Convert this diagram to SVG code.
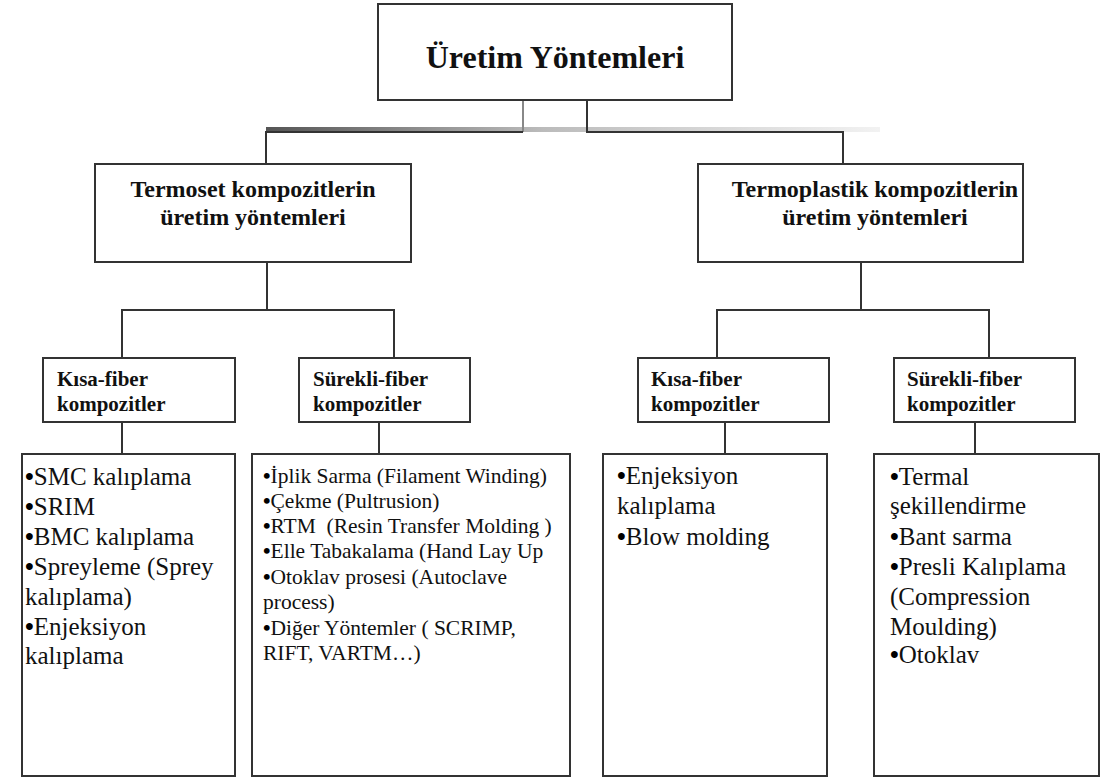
<svg xmlns="http://www.w3.org/2000/svg" width="1101" height="777" viewBox="0 0 1101 777">
<style>
.box{fill:#fff;stroke:#333;stroke-width:2}
.ln{fill:none;stroke:#333;stroke-width:2}
text{font-family:'Liberation Serif','DejaVu Serif','Times New Roman',serif;fill:#111}
.b{font-weight:bold}
.h1{font-size:32px}
.h2{font-size:24px}
.h3{font-size:21px}
.l{font-size:25px}
.s{font-size:21.5px}
.d{font-weight:bold;fill:#000}
</style>
<defs>
<linearGradient id="bar" x1="0" y1="0" x2="1" y2="0">
<stop offset="0" stop-color="#555"/>
<stop offset="0.45" stop-color="#bbb"/>
<stop offset="1" stop-color="#f2f2f2"/>
</linearGradient>
</defs>
<rect width="1101" height="777" fill="#fff"/>
<g id="connectors">
<rect x="266" y="127" width="614" height="5" fill="url(#bar)"/>
<line x1="523" y1="100" x2="523" y2="132" stroke="#888" stroke-width="2"/>
<polyline class="ln" points="523,132 266,132 266,164"/>
<polyline class="ln" points="587,100 587,132 843,132 843,164"/>
<polyline class="ln" points="267,262 267,310"/>
<polyline class="ln" points="122,358 122,310 394,310 394,358"/>
<line class="ln" x1="122" y1="422" x2="122" y2="454"/>
<line class="ln" x1="379" y1="420" x2="379" y2="454"/>
<polyline class="ln" points="861,262 861,310"/>
<polyline class="ln" points="717,358 717,310 989,310 989,358"/>
<line class="ln" x1="725" y1="422" x2="725" y2="454"/>
<line class="ln" x1="975" y1="422" x2="975" y2="454"/>
</g>
<g id="root">
<rect class="box" x="378" y="4" width="354" height="96"/>
<text class="b h1" x="555" y="68" text-anchor="middle">Üretim Yöntemleri</text>
</g>
<g id="termoset">
<rect class="box" x="95" y="164" width="316" height="98"/>
<text class="b h2" x="253" y="197" text-anchor="middle">Termoset kompozitlerin</text>
<text class="b h2" x="253" y="225" text-anchor="middle">üretim yöntemleri</text>
</g>
<g id="termoplastik">
<rect class="box" x="698" y="164" width="325" height="98"/>
<text class="b h2" x="875" y="197" text-anchor="middle">Termoplastik kompozitlerin</text>
<text class="b h2" x="875" y="225" text-anchor="middle">üretim yöntemleri</text>
</g>
<g id="ts-kisa">
<rect class="box" x="43" y="358" width="192" height="64"/>
<text class="b h3" x="57" y="386">Kısa-fiber</text>
<text class="b h3" x="57" y="411">kompozitler</text>
</g>
<g id="ts-surekli">
<rect class="box" x="299" y="358" width="171" height="64"/>
<text class="b h3" x="313" y="386">Sürekli-fiber</text>
<text class="b h3" x="313" y="411">kompozitler</text>
</g>
<g id="tp-kisa">
<rect class="box" x="638" y="358" width="191" height="64"/>
<text class="b h3" x="651" y="386">Kısa-fiber</text>
<text class="b h3" x="651" y="411">kompozitler</text>
</g>
<g id="tp-surekli">
<rect class="box" x="894" y="358" width="181" height="64"/>
<text class="b h3" x="907" y="386">Sürekli-fiber</text>
<text class="b h3" x="907" y="411">kompozitler</text>
</g>
<g id="ts-kisa-list">
<rect class="box" x="22" y="454" width="213" height="322"/>
<text class="l" x="25" y="485"><tspan class="d">•</tspan>SMC kalıplama</text>
<text class="l" x="25" y="515"><tspan class="d">•</tspan>SRIM</text>
<text class="l" x="25" y="545"><tspan class="d">•</tspan>BMC kalıplama</text>
<text class="l" x="25" y="575"><tspan class="d">•</tspan>Spreyleme (Sprey</text>
<text class="l" x="25" y="605">kalıplama)</text>
<text class="l" x="25" y="635"><tspan class="d">•</tspan>Enjeksiyon</text>
<text class="l" x="25" y="664">kalıplama</text>
</g>
<g id="ts-surekli-list">
<rect class="box" x="252" y="454" width="318" height="322"/>
<text class="s" x="263" y="483"><tspan class="d">•</tspan>İplik Sarma (Filament Winding)</text>
<text class="s" x="263" y="508"><tspan class="d">•</tspan>Çekme (Pultrusion)</text>
<text class="s" x="263" y="533" xml:space="preserve"><tspan class="d">•</tspan>RTM  (Resin Transfer Molding )</text>
<text class="s" x="263" y="558"><tspan class="d">•</tspan>Elle Tabakalama (Hand Lay Up</text>
<text class="s" x="263" y="584"><tspan class="d">•</tspan>Otoklav prosesi (Autoclave</text>
<text class="s" x="263" y="609">process)</text>
<text class="s" x="263" y="635"><tspan class="d">•</tspan>Diğer Yöntemler ( SCRIMP,</text>
<text class="s" x="263" y="660">RIFT, VARTM…)</text>
</g>
<g id="tp-kisa-list">
<rect class="box" x="603" y="454" width="224" height="322"/>
<text class="l" x="617" y="484"><tspan class="d">•</tspan>Enjeksiyon</text>
<text class="l" x="617" y="514">kalıplama</text>
<text class="l" x="617" y="545"><tspan class="d">•</tspan>Blow molding</text>
</g>
<g id="tp-surekli-list">
<rect class="box" x="874" y="454" width="225" height="322"/>
<text class="l" x="890" y="485"><tspan class="d">•</tspan>Termal</text>
<text class="l" x="890" y="514">şekillendirme</text>
<text class="l" x="890" y="545"><tspan class="d">•</tspan>Bant sarma</text>
<text class="l" x="890" y="575"><tspan class="d">•</tspan>Presli Kalıplama</text>
<text class="l" x="890" y="605">(Compression</text>
<text class="l" x="890" y="635">Moulding)</text>
<text class="l" x="890" y="663"><tspan class="d">•</tspan>Otoklav</text>
</g>
</svg>
